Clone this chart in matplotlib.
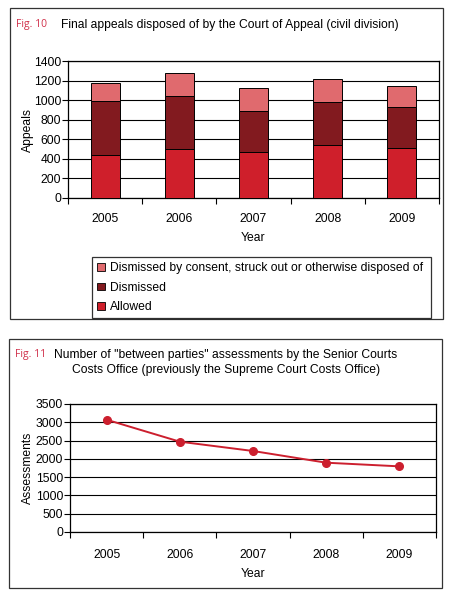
import matplotlib
matplotlib.use("Agg")
import matplotlib.pyplot as plt
from matplotlib.patches import Rectangle, Patch
import numpy as np

plt.rcParams['font.family'] = ['Liberation Sans', 'DejaVu Sans']

years = ["2005", "2006", "2007", "2008", "2009"]
allowed = [440, 500, 470, 540, 515]
dismissed = [550, 538, 418, 436, 410]
consent = [190, 235, 232, 236, 215]
assessments = [3070, 2470, 2215, 1895, 1795]

c_allowed = "#cf1f2b"
c_dismissed = "#821a1f"
c_consent = "#e06a6e"
c_line = "#cc1f2e"
c_fig = "#d0304a"
FS = 8.7

W, H = 453, 604
fig = plt.figure(figsize=(W / 100, H / 100), dpi=100)
fig.patch.set_facecolor("white")

def fx(x): return x / W
def fy(y): return 1 - y / H
def rect(l, t, r, b): return [fx(l), fy(b), fx(r) - fx(l), fy(t) - fy(b)]

# panel frames
for (l, t, r, b) in [(10, 8, 443, 319), (9, 339, 442, 588)]:
    fig.patches.append(Rectangle((fx(l), fy(b)), fx(r) - fx(l), fy(t) - fy(b),
                                 transform=fig.transFigure, fill=False,
                                 edgecolor="#333333", lw=0.9))

# ---------- Fig 10 ----------
ax1 = fig.add_axes(rect(68, 61, 439, 198))
x = np.arange(len(years))
bw = 0.39
ax1.bar(x, allowed, bw, color=c_allowed, edgecolor="black", lw=0.7, zorder=3)
b1 = np.array(allowed)
ax1.bar(x, dismissed, bw, bottom=b1, color=c_dismissed, edgecolor="black", lw=0.7, zorder=3)
b2 = b1 + np.array(dismissed)
ax1.bar(x, consent, bw, bottom=b2, color=c_consent, edgecolor="black", lw=0.7, zorder=3)
ax1.set_xlim(-0.5, 4.5)
ax1.set_ylim(0, 1400)
ax1.set_yticks(range(0, 1401, 200))
ax1.yaxis.grid(True, color="black", lw=0.8)
ax1.set_axisbelow(True)
ax1.set_xticks(np.arange(-0.5, 5.0, 1.0))
ax1.set_xticklabels([])
ax1.set_xticks(x, minor=True)
ax1.set_xticklabels(years, minor=True)
ax1.tick_params(axis="x", which="minor", length=0, pad=11, labelsize=FS)
ax1.tick_params(axis="x", which="major", length=4, width=0.8)
ax1.tick_params(axis="y", length=4, width=0.8, labelsize=FS, pad=1)
for s in ax1.spines.values():
    s.set_linewidth(0.9)
ax1.set_ylabel("Appeals", fontsize=FS, labelpad=0)
ax1.set_xlabel("Year", fontsize=FS, labelpad=5)

fig.text(fx(16), fy(25), "Fig. 10", fontsize=7.5, color=c_fig, va="center",
         family=["Open Sans", "DejaVu Sans"])
fig.text(fx(61), fy(25), "Final appeals disposed of by the Court of Appeal (civil division)",
         fontsize=FS, va="center")

handles = [Patch(facecolor=c_consent, edgecolor="black", lw=0.6),
           Patch(facecolor=c_dismissed, edgecolor="black", lw=0.6),
           Patch(facecolor=c_allowed, edgecolor="black", lw=0.6)]
labels = ["Dismissed by consent, struck out or otherwise disposed of",
          "Dismissed", "Allowed"]
leg = fig.legend(handles, labels, loc="upper left", mode="expand",
                 bbox_to_anchor=(fx(92), fy(317), fx(431) - fx(92), fy(257) - fy(317)),
                 bbox_transform=fig.transFigure,
                 fontsize=FS, frameon=True, fancybox=False, handlelength=0.6,
                 handleheight=0.6, handletextpad=0.45, labelspacing=0.6,
                 borderpad=0.45, borderaxespad=0)
leg.get_frame().set_edgecolor("black")
leg.get_frame().set_linewidth(0.9)

# ---------- Fig 11 ----------
ax2 = fig.add_axes(rect(70, 404, 436, 532))
ax2.plot(x, assessments, color=c_line, lw=1.4, marker="o", markersize=5.5,
         markerfacecolor=c_line, markeredgecolor=c_line, zorder=3)
ax2.set_xlim(-0.5, 4.5)
ax2.set_ylim(0, 3500)
ax2.set_yticks(range(0, 3501, 500))
ax2.yaxis.grid(True, color="black", lw=0.8)
ax2.set_axisbelow(True)
ax2.set_xticks(np.arange(-0.5, 5.0, 1.0))
ax2.set_xticklabels([])
ax2.set_xticks(x, minor=True)
ax2.set_xticklabels(years, minor=True)
ax2.tick_params(axis="x", which="minor", length=0, pad=12, labelsize=FS)
ax2.tick_params(axis="x", which="major", length=4, width=0.8)
ax2.tick_params(axis="y", length=4, width=0.8, labelsize=FS, pad=1)
for s in ax2.spines.values():
    s.set_linewidth(0.9)
ax2.set_ylabel("Assessments", fontsize=FS, labelpad=1)
ax2.set_xlabel("Year", fontsize=FS, labelpad=5)

fig.text(fx(15), fy(355), "Fig. 11", fontsize=7.5, color=c_fig, va="center",
         family=["Open Sans", "DejaVu Sans"])
fig.text(fx(226), fy(355), 'Number of "between parties" assessments by the Senior Courts',
         fontsize=FS, va="center", ha="center")
fig.text(fx(226), fy(370), "Costs Office (previously the Supreme Court Costs Office)",
         fontsize=FS, va="center", ha="center")

fig.savefig("out.png", dpi=100, facecolor="white")
